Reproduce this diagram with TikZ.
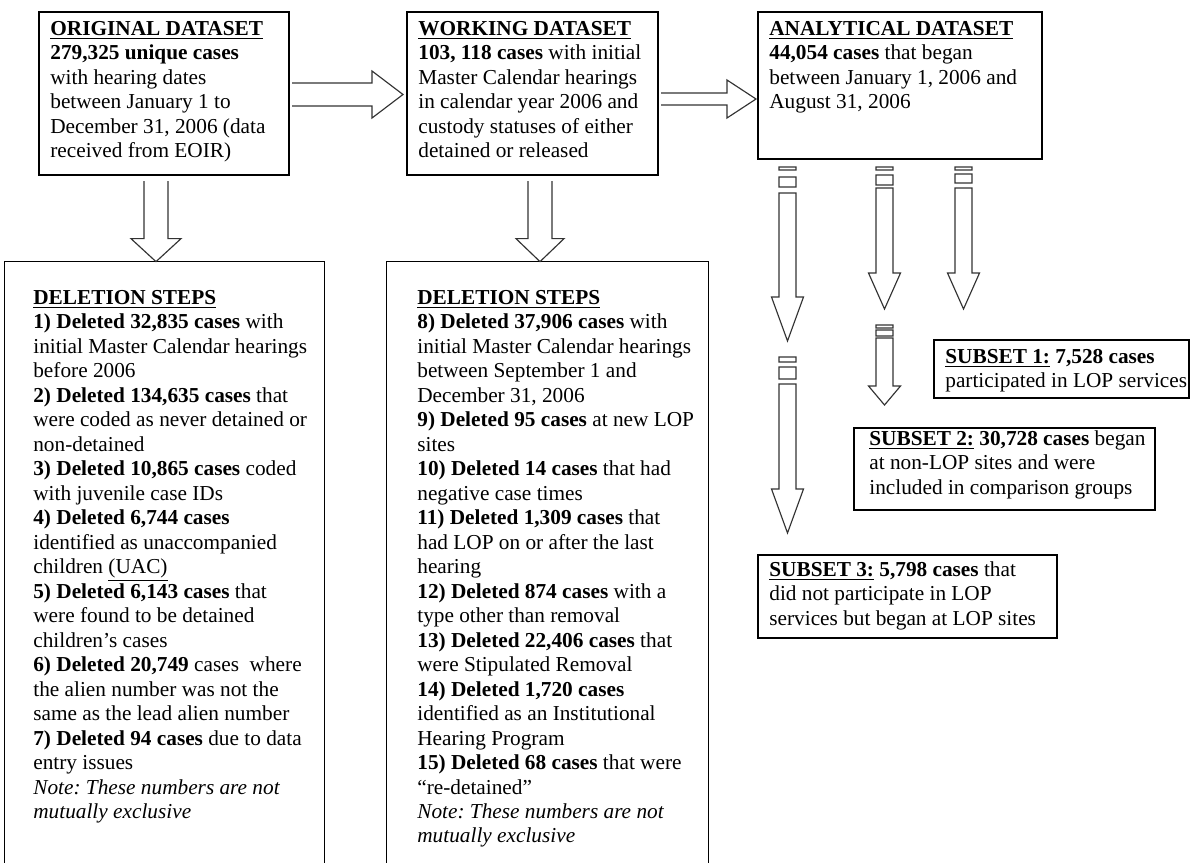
\documentclass[tikz,border=0pt]{standalone}
\usepackage{fontspec}
\setmainfont{Liberation Serif}
\usetikzlibrary{fit,calc}
\frenchspacing
\newcommand\PX{0.5637pt}
% block arrow pointing down: #1 start, #2 tip, #3 shaft half, #4 head half, #5 head length (px)
\newcommand\BArrowDown[5]{\draw[blockarrow] let \p1=(#1), \p2=(#2) in
 (\x1-#3*\PX,\y1) -- (\x1-#3*\PX,\y2+#5*\PX) -- (\x1-#4*\PX,\y2+#5*\PX) -- (\x2,\y2)
 -- (\x1+#4*\PX,\y2+#5*\PX) -- (\x1+#3*\PX,\y2+#5*\PX) -- (\x1+#3*\PX,\y1);}
% block arrow pointing right
\newcommand\BArrowRight[5]{\draw[blockarrow] let \p1=(#1), \p2=(#2) in
 (\x1,\y1+#3*\PX) -- (\x2-#5*\PX,\y1+#3*\PX) -- (\x2-#5*\PX,\y1+#4*\PX) -- (\x2,\y2)
 -- (\x2-#5*\PX,\y1-#4*\PX) -- (\x2-#5*\PX,\y1-#3*\PX) -- (\x1,\y1-#3*\PX);}
% striped arrow pointing down: #1 start, #2 tip, #3 stripe1, #4 gap1, #5 stripe2, #6 gap2, #7 head length
\newcommand\StripeDown[7]{\draw[blockarrow] let \p1=(#1), \p2=(#2) in
 (\x1-8.5*\PX,\y1) rectangle (\x1+8.5*\PX,\y1-#3*\PX)
 (\x1-8.5*\PX,\y1-#3*\PX-#4*\PX) rectangle (\x1+8.5*\PX,\y1-#3*\PX-#4*\PX-#5*\PX)
 (\x1-8.5*\PX,\y1-#3*\PX-#4*\PX-#5*\PX-#6*\PX) -- (\x1-8.5*\PX,\y2+#7*\PX) -- (\x1-16*\PX,\y2+#7*\PX)
 -- (\x2,\y2) -- (\x1+16*\PX,\y2+#7*\PX) -- (\x1+8.5*\PX,\y2+#7*\PX)
 -- (\x1+8.5*\PX,\y1-#3*\PX-#4*\PX-#5*\PX-#6*\PX) -- cycle;}
\begin{document}
\begin{tikzpicture}[x=\PX,y=-\PX,
  box/.style={draw,line width=0.75pt,inner sep=0pt},
  area/.style={inner sep=0pt},
  openbox/.style={line width=0.75pt},
  blockarrow/.style={draw=black!80,line width=0.65pt,line join=miter},
  txt/.style={anchor=north west,align=left,inner sep=0pt,font=\fontsize{12}{13.8}\selectfont}]
\useasboundingbox (0,0) rectangle (1191,862);
\clip (0,0) rectangle (1191,862);
% boxes
\node[box,fit={(39,12)(289,175)}] (orig) {};
\node[box,fit={(407,12)(658,175)}] (work) {};
\node[box,fit={(758,12)(1042,159)}] (anal) {};
\node[area,fit={(5,262)(324,900)}] (del1) {};
\node[area,fit={(387,262)(708,900)}] (del2) {};
\draw[openbox] (del1.south west) -- (del1.north west) -- (del1.north east) -- (del1.south east);
\draw[openbox] (del2.south west) -- (del2.north west) -- (del2.north east) -- (del2.south east);
\node[box,fit={(934,340)(1189,398)}] (sub1) {};
\node[box,fit={(854,428)(1155,510)}] (sub2) {};
\node[box,fit={(758,555)(1057,638)}] (sub3) {};
% texts
\node[txt] (torig) at (50,17.9) {\strut\underline{\textbf{ORIGINAL DATASET}}\\
\textbf{279,325 unique cases}\\
with hearing dates\\
between January 1 to\\
December 31, 2006 (data\\
received from EOIR)};
\node[txt] (twork) at (418,17.9) {\strut\underline{\textbf{WORKING DATASET}}\\
\textbf{103, 118 cases} with initial\\
Master Calendar hearings\\
in calendar year 2006 and\\
custody statuses of either\\
detained or released};
\node[txt] (tanal) at (769,17.9) {\strut\underline{\textbf{ANALYTICAL DATASET}}\\
\textbf{44,054 cases} that began\\
between January 1, 2006 and\\
August 31, 2006};
\node[txt] (tdel1) at (33,286.9) {\strut\underline{\textbf{DELETION STEPS}}\\
\textbf{1) Deleted 32,835 cases} with\\
initial Master Calendar hearings\\
before 2006\\
\textbf{2) Deleted 134,635 cases} that\\
were coded as never detained or\\
non-detained\\
\textbf{3) Deleted 10,865 cases} coded\\
with juvenile case IDs\\
\textbf{4) Deleted 6,744 cases}\\
identified as unaccompanied\\
children \underline{(UAC)}\\
\textbf{5) Deleted 6,143 cases} that\\
were found to be detained\\
children’s cases\\
\textbf{6) Deleted 20,749} cases~ where\\
the alien number was not the\\
same as the lead alien number\\
\textbf{7) Deleted 94 cases} due to data\\
entry issues\\
\textit{Note: These numbers are not}\\
\textit{mutually exclusive}};
\node[txt] (tdel2) at (417,286.9) {\strut\underline{\textbf{DELETION STEPS}}\\
\textbf{8) Deleted 37,906 cases} with\\
initial Master Calendar hearings\\
between September 1 and\\
December 31, 2006\\
\textbf{9) Deleted 95 cases} at new LOP\\
sites\\
\textbf{10) Deleted 14 cases} that had\\
negative case times\\
\textbf{11) Deleted 1,309 cases} that\\
had LOP on or after the last\\
hearing\\
\textbf{12) Deleted 874 cases} with a\\
type other than removal\\
\textbf{13) Deleted 22,406 cases} that\\
were Stipulated Removal\\
\textbf{14) Deleted 1,720 cases}\\
identified as an Institutional\\
Hearing Program\\
\textbf{15) Deleted 68 cases} that were\\
“re-detained”\\
\textit{Note: These numbers are not}\\
\textit{mutually exclusive}};
\node[txt] (tsub1) at (945,345.9) {\strut\underline{\textbf{SUBSET 1:}} \textbf{7,528 cases}\\
participated in LOP services};
\node[txt] (tsub2) at (869,427.9) {\strut\underline{\textbf{SUBSET 2:}} \textbf{30,728 cases} began\\
at non-LOP sites and were\\
included in comparison groups};
\node[txt] (tsub3) at (769,558.9) {\strut\underline{\textbf{SUBSET 3:}} \textbf{5,798 cases} that\\
did not participate in LOP\\
services but began at LOP sites};
% connector end points
\coordinate (r1s) at (292,94.5);
\coordinate (r1t) at (403,94.5);
\coordinate (r2s) at (661,99);
\coordinate (r2t) at (756,99);
\coordinate (d1s) at (156,181);
\coordinate (d2s) at (540,181);
\coordinate (cAs) at (787.5,167);
\coordinate (cAm) at (787.5,341);
\coordinate (cAn) at (787.5,357);
\coordinate (cAt) at (787.5,533);
\coordinate (cBs) at (884.5,167);
\coordinate (cBm) at (884.5,309);
\coordinate (cBn) at (884.5,325);
\coordinate (cBt) at (884.5,405);
\coordinate (cCs) at (963.5,167);
\coordinate (cCt) at (963.5,309);
% arrows
\BArrowRight{r1s}{r1t}{11.5}{23.5}{31}
\BArrowRight{r2s}{r2t}{6}{19}{29}
\BArrowDown{d1s}{d1s |- del1.north}{12}{25}{23}
\BArrowDown{d2s}{d2s |- del2.north}{12}{24}{23}
\StripeDown{cAs}{cAm}{3}{7}{10}{6}{44}
\StripeDown{cAn}{cAt}{5}{5}{12}{5}{44}
\StripeDown{cBs}{cBm}{3}{5}{10}{3}{36}
\StripeDown{cBn}{cBt}{3}{2}{6}{2}{19}
\StripeDown{cCs}{cCt}{3}{4}{9}{5}{36}
\end{tikzpicture}
\end{document}
